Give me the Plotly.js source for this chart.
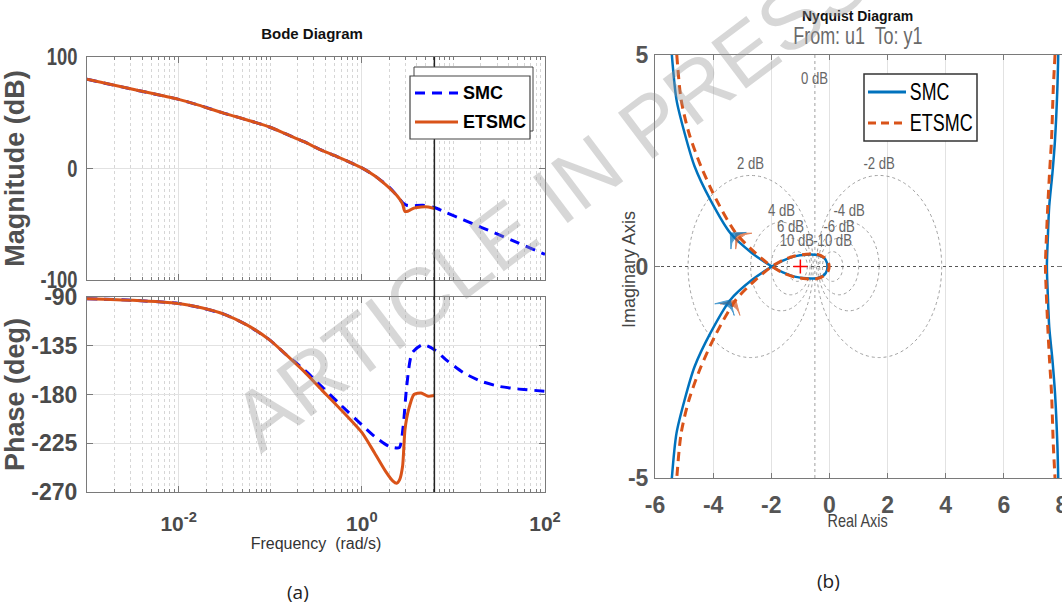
<!DOCTYPE html>
<html>
<head>
<meta charset="utf-8">
<script src="https://cdn.plot.ly/plotly-3.0.1.min.js"></script>
<style>
  html, body { margin: 0; padding: 0; background: #fff; }
  #chart { width: 1062px; height: 604px; }
</style>
</head>
<body>
<div id="chart"></div>
<script>
// ---------- Bode data (frequency in rad/s) ----------
const smcFreq = [0.001, 0.00316, 0.01, 0.0178, 0.0316, 0.0562, 0.1, 0.148, 0.234, 0.363, 0.562, 1.0,
                 1.38, 2.0, 2.57, 2.83, 3.09, 3.54, 4.62, 6.2, 8.32, 12.9, 20.4, 31.6, 50.1, 100];
const smcMagDb = [80, 71, 62, 56, 49.5, 43.5, 37, 31, 24, 16.5, 10, 0.5,
                  -6.5, -17, -27, -31, -33, -33.5, -33, -35, -39.5, -46, -53, -59.5, -66.5, -77];
const smcPhaseDeg = [-91.5, -93, -96, -100, -106, -116, -130, -143, -157, -172.5, -188, -208,
                     -218.7, -228, -229, -209.5, -172.5, -141.6, -134, -138.6, -148, -160, -168, -172.5, -174.8, -177];

const etsmcFreq = [0.001, 0.00316, 0.01, 0.0178, 0.0316, 0.0562, 0.1, 0.148, 0.234, 0.363, 0.562, 1.0,
                   1.38, 1.82, 2.19, 2.4, 2.59, 2.79, 2.96, 3.24, 3.71, 4.44, 5.31, 6.2];
const etsmcMagDb = [80, 71, 62, 56, 49.5, 43.5, 37, 31, 24, 16.5, 10, 0.5,
                    -6.5, -14.5, -20.6, -24, -27.5, -32, -38.5, -38, -35.5, -34.5, -34.5, -36];
const etsmcPhaseDeg = [-91.5, -93, -96, -100, -106, -116, -130, -143, -158.7, -175.5, -192, -215,
                       -234, -251, -260, -262, -258.6, -246, -212.5, -194, -180, -178.6, -181.7, -181];

// ---------- Nyquist data ----------
const nyqSmcLoopRe = [-5.42, -5.26, -4.98, -4.64, -4.10, -3.41, -2.67, -1.98, -1.6, -1.2, -0.8, -0.4, -0.18, -0.08, -0.07,
                      -0.08, -0.18, -0.4, -0.8, -1.2, -1.6, -1.98, -2.67, -3.41, -4.10, -4.64, -4.98, -5.26, -5.42];
const nyqSmcLoopIm = [5.0, 3.94, 3.15, 2.37, 1.58, 0.79, 0.32, 0, -0.14, -0.24, -0.28, -0.27, -0.2, -0.08, 0,
                      0.08, 0.2, 0.27, 0.28, 0.24, 0.14, 0, -0.32, -0.79, -1.58, -2.37, -3.15, -3.94, -5.0];
const nyqSmcRightRe = [7.87, 7.84, 7.76, 7.67, 7.56, 7.51, 7.48, 7.51, 7.56, 7.67, 7.76, 7.84, 7.87];
const nyqSmcRightIm = [5, 4.2, 3.0, 2.2, 1.42, 0.63, 0, -0.63, -1.42, -2.2, -3.0, -4.2, -5];

const nyqEtsmcLoopRe = [-5.25, -5.10, -4.83, -4.42, -3.89, -3.22, -2.55, -1.98, -1.6, -1.2, -0.8, -0.45, -0.2, -0.04, -0.01,
                        -0.04, -0.2, -0.45, -0.8, -1.2, -1.6, -1.98, -2.55, -3.22, -3.89, -4.42, -4.83, -5.10, -5.25];
const nyqEtsmcLoopIm = [5.0, 3.94, 3.15, 2.37, 1.58, 0.79, 0.32, 0, -0.15, -0.25, -0.29, -0.29, -0.22, -0.1, 0,
                        0.1, 0.22, 0.29, 0.29, 0.25, 0.15, 0, -0.32, -0.79, -1.58, -2.37, -3.15, -3.94, -5.0];
const nyqEtsmcRightRe = [7.76, 7.70, 7.64, 7.57, 7.51, 7.46, 7.43, 7.46, 7.51, 7.57, 7.64, 7.70, 7.76];
const nyqEtsmcRightIm = [5, 4.2, 3.0, 2.2, 1.42, 0.63, 0, -0.63, -1.42, -2.2, -3.0, -4.2, -5];

const criticalPointRe = [-1];
const criticalPointIm = [0];

// ---------- axes, ticks and grid levels ----------
const bodeFreqRangeLog = [-3, 2];
const bodeFreqTicks = [0.01, 1, 100];
const bodeFreqTickText = ['10<sup>-2</sup>', '10<sup>0</sup>', '10<sup>2</sup>'];
const magRange = [-100, 100];
const magTicks = [-100, 0, 100];
const phaseRange = [-270, -90];
const phaseTicks = [-270, -225, -180, -135, -90];
const realRange = [-6, 8.0001];
const realTicks = [-6, -4, -2, 0, 2, 4, 6, 8];
const imagRange = [-5, 5];
const imagTicks = [-5, 0, 5];
const mCircleDb = [2, -2, 4, -4, 6, -6, 10, -10];
const zeroDbRe = -0.5;
const labelOf = v => String(v);

// ---------- styling ----------
const W = 1062, H = 604;
const px = v => v / W;
const py = v => 1 - v / H;

const SANS = "'Liberation Sans', Arial, Helvetica, sans-serif";
const BLUE_BODE = '#0000FF';
const ORANGE = '#D95319';
const BLUE_NYQ = '#0072BD';
const AXIS_LINE = '#7a7a7a';
const GRID = '#e2e2e2';
const MINOR_GRID = '#d6d6d6';

// minor log grid for the frequency axes
const minorFreq = [];
for (let e = bodeFreqRangeLog[0]; e < bodeFreqRangeLog[1]; e++) {
  for (let d = 1; d <= 9; d++) {
    const v = d * Math.pow(10, e);
    if (!bodeFreqTicks.some(m => Math.abs(m - v) / m < 1e-9)) minorFreq.push(v);
  }
}

const traces = [
  { x: smcFreq, y: smcMagDb, xaxis: 'x', yaxis: 'y', name: 'SMC', mode: 'lines',
    line: { color: BLUE_BODE, width: 3, dash: '10px,7px', shape: 'spline', smoothing: 0.8 } },
  { x: etsmcFreq, y: etsmcMagDb, xaxis: 'x', yaxis: 'y', name: 'ETSMC', mode: 'lines',
    line: { color: ORANGE, width: 3, shape: 'spline', smoothing: 0.8 } },
  { x: smcFreq, y: smcPhaseDeg, xaxis: 'x2', yaxis: 'y2', name: 'SMC', mode: 'lines',
    line: { color: BLUE_BODE, width: 3, dash: '10px,7px', shape: 'spline', smoothing: 0.6 } },
  { x: etsmcFreq, y: etsmcPhaseDeg, xaxis: 'x2', yaxis: 'y2', name: 'ETSMC', mode: 'lines',
    line: { color: ORANGE, width: 3, shape: 'spline', smoothing: 0.6 } },
  { x: nyqSmcLoopRe.concat([null], nyqSmcRightRe), y: nyqSmcLoopIm.concat([null], nyqSmcRightIm),
    xaxis: 'x3', yaxis: 'y3', name: 'SMC', mode: 'lines', connectgaps: false,
    line: { color: BLUE_NYQ, width: 2.5, shape: 'spline', smoothing: 0.8 } },
  { x: nyqEtsmcLoopRe.concat([null], nyqEtsmcRightRe), y: nyqEtsmcLoopIm.concat([null], nyqEtsmcRightIm),
    xaxis: 'x3', yaxis: 'y3', name: 'ETSMC', mode: 'lines', connectgaps: false,
    line: { color: ORANGE, width: 3, dash: '9px,6px', shape: 'spline', smoothing: 0.8 } },
  { x: criticalPointRe, y: criticalPointIm, xaxis: 'x3', yaxis: 'y3', mode: 'markers', name: 'critical point',
    marker: { symbol: 'cross-thin', size: 10, line: { color: '#ff0000', width: 1.5 } }, hoverinfo: 'skip' }
];

// direction arrows on the left branches, oriented along the curve
function arrowAt(re, im, k, color) {
  return { x: [re[k + 1], re[k]], y: [im[k + 1], im[k]], xaxis: 'x3', yaxis: 'y3', mode: 'markers',
    hoverinfo: 'skip',
    marker: { symbol: 'arrow-wide', size: [0, 16], angleref: 'previous', color: color,
              line: { color: color, width: 1 } } };
}
const upperIdx = 5;
const lowerIdx = nyqSmcLoopRe.length - 1 - upperIdx;
traces.push(arrowAt(nyqEtsmcLoopRe, nyqEtsmcLoopIm, upperIdx, ORANGE));
traces.push(arrowAt(nyqEtsmcLoopRe, nyqEtsmcLoopIm, lowerIdx, ORANGE));
traces.push(arrowAt(nyqSmcLoopRe, nyqSmcLoopIm, upperIdx, BLUE_NYQ));
traces.push(arrowAt(nyqSmcLoopRe, nyqSmcLoopIm, lowerIdx, BLUE_NYQ));
traces.forEach(t => { t.showlegend = false; });

const bodeXCommon = {
  type: 'log', range: bodeFreqRangeLog, domain: [px(87), px(545)],
  tickmode: 'array', tickvals: bodeFreqTicks,
  ticks: 'inside', ticklen: 6, tickcolor: AXIS_LINE, showline: true, linecolor: AXIS_LINE, linewidth: 1,
  mirror: 'ticks', showgrid: true, gridcolor: GRID, zeroline: false,
  minor: { tickmode: 'array', tickvals: minorFreq, ticks: 'inside', ticklen: 3, tickcolor: AXIS_LINE,
           showgrid: true, gridcolor: MINOR_GRID, griddash: 'dot', gridwidth: 1 }
};

const tickFontBodeY = { family: SANS, size: 23, color: '#4a4a4a', weight: 'bold' };
const tickFontBodeX = { family: SANS, size: 21, color: '#4a4a4a', weight: 'bold' };
const tickFontNyq = { family: SANS, size: 23, color: '#555555', weight: 'bold' };
const dotGrey = { color: '#a0a0a0', width: 1, dash: 'dot' };

const shapes = [];
// M-circles (constant closed-loop magnitude)
const mCircles = mCircleDb.map(db => {
  const M = Math.pow(10, db / 20);
  return { db: db, c: -M * M / (M * M - 1), r: Math.abs(M / (M * M - 1)) };
});
mCircles.forEach(m => {
  shapes.push({ type: 'circle', xref: 'x3', yref: 'y3', x0: m.c - m.r, x1: m.c + m.r, y0: -m.r, y1: m.r,
    layer: 'between', line: dotGrey });
});
// 0 dB line and real axis
shapes.push({ type: 'line', xref: 'x3', yref: 'y3', x0: zeroDbRe, x1: zeroDbRe, y0: imagRange[0], y1: imagRange[1],
  layer: 'between', line: dotGrey });
shapes.push({ type: 'line', xref: 'x3', yref: 'y3', x0: realRange[0], x1: realRange[1], y0: 0, y1: 0,
  layer: 'between', line: { color: '#555555', width: 1, dash: 'dot' } });
// marker line at the last ETSMC frequency across both Bode panels
const fMark = etsmcFreq[etsmcFreq.length - 1];
shapes.push({ type: 'line', xref: 'x', yref: 'paper', x0: fMark, x1: fMark, y0: py(492), y1: py(57),
  layer: 'above', line: { color: '#222222', width: 1.5 } });
// Bode legend (double box)
shapes.push({ type: 'rect', xref: 'paper', yref: 'paper', x0: px(414), x1: px(533), y0: py(131), y1: py(67),
  layer: 'above', fillcolor: '#ffffff', line: { color: '#444444', width: 1 } });
shapes.push({ type: 'rect', xref: 'paper', yref: 'paper', x0: px(410), x1: px(530), y0: py(139), y1: py(76),
  layer: 'above', fillcolor: '#ffffff', line: { color: '#444444', width: 1.2 } });
shapes.push({ type: 'line', xref: 'paper', yref: 'paper', x0: px(415), x1: px(458), y0: py(93), y1: py(93),
  layer: 'above', line: { color: BLUE_BODE, width: 3, dash: '10px,7px' } });
shapes.push({ type: 'line', xref: 'paper', yref: 'paper', x0: px(415), x1: px(458), y0: py(122), y1: py(122),
  layer: 'above', line: { color: ORANGE, width: 3 } });
// Nyquist legend
shapes.push({ type: 'rect', xref: 'paper', yref: 'paper', x0: px(864), x1: px(977), y0: py(141), y1: py(74),
  layer: 'above', fillcolor: '#ffffff', line: { color: '#333333', width: 1.5 } });
shapes.push({ type: 'line', xref: 'paper', yref: 'paper', x0: px(868), x1: px(906), y0: py(92), y1: py(92),
  layer: 'above', line: { color: BLUE_NYQ, width: 3 } });
shapes.push({ type: 'line', xref: 'paper', yref: 'paper', x0: px(868), x1: px(906), y0: py(123), y1: py(123),
  layer: 'above', line: { color: ORANGE, width: 3, dash: '8px,5px' } });

// annotations; "squeeze" marks texts drawn in a condensed width
const annotations = [];
const squeeze = {};
function note(opts, factor) {
  const a = Object.assign({ showarrow: false, xanchor: 'center', yanchor: 'middle' }, opts);
  if (factor) squeeze[annotations.length] = factor;
  annotations.push(a);
}
const mLabelFont = { family: SANS, size: 16, color: '#666666' };
mCircles.forEach(m => {
  note({ xref: 'x3', yref: 'y3', x: m.c, y: m.r, yanchor: 'bottom', yshift: 1, text: m.db + ' dB', font: mLabelFont }, 0.82);
});
note({ xref: 'x3', yref: 'paper', x: zeroDbRe, y: py(78), text: '0 dB', font: mLabelFont }, 0.82);
// legend texts
note({ xref: 'paper', yref: 'paper', x: px(461), y: py(93), xanchor: 'left', text: 'SMC',
       font: { family: SANS, size: 18, color: '#000', weight: 'bold' } });
note({ xref: 'paper', yref: 'paper', x: px(461), y: py(122), xanchor: 'left', text: 'ETSMC',
       font: { family: SANS, size: 18, color: '#000', weight: 'bold' } });
note({ xref: 'paper', yref: 'paper', x: px(929.5), y: py(92), text: 'SMC',
       font: { family: SANS, size: 23, color: '#000' } }, 0.77);
note({ xref: 'paper', yref: 'paper', x: px(941.5), y: py(123), text: 'ETSMC',
       font: { family: SANS, size: 23, color: '#000' } }, 0.78);
// Nyquist titles and axis names
note({ xref: 'paper', yref: 'paper', x: px(857), y: py(16), text: 'Nyquist Diagram',
       font: { family: SANS, size: 14, color: '#111', weight: 'bold' } });
note({ xref: 'paper', yref: 'paper', x: px(858), y: py(36), text: 'From: u1\u00a0 To: y1',
       font: { family: SANS, size: 23, color: '#6a6a6a' } }, 0.78);
note({ xref: 'paper', yref: 'paper', x: px(857), y: py(520), text: 'Real Axis',
       font: { family: SANS, size: 19, color: '#444' } }, 0.76);
note({ xref: 'paper', yref: 'paper', x: px(629), y: py(270), textangle: -90, text: 'Imaginary Axis',
       font: { family: SANS, size: 18, color: '#444' } });
// panel captions
note({ xref: 'paper', yref: 'paper', x: px(298), y: py(592), text: '(a)',
       font: { family: "'Open Sans', sans-serif", size: 19, color: '#222' } });
note({ xref: 'paper', yref: 'paper', x: px(828), y: py(581), text: '(b)',
       font: { family: "'Open Sans', sans-serif", size: 19, color: '#222' } });
// watermark
note({ xref: 'paper', yref: 'paper', x: px(550), y: py(200), textangle: -37, text: 'ARTICLE IN PRESS',
       font: { family: SANS, size: 84, color: 'rgba(150,150,150,0.38)' } });

const layout = {
  width: W, height: H,
  margin: { l: 0, r: 0, t: 0, b: 0 },
  paper_bgcolor: '#ffffff', plot_bgcolor: '#ffffff',
  showlegend: false,
  title: { text: 'Bode Diagram', x: px(312), y: py(34), xanchor: 'center', yanchor: 'middle',
           font: { family: SANS, size: 15, color: '#111', weight: 'bold' } },
  xaxis: Object.assign({}, bodeXCommon, { anchor: 'y', showticklabels: false }),
  yaxis: { domain: [py(280), py(57)], anchor: 'x', range: magRange, tickmode: 'array', tickvals: magTicks,
           ticktext: magTicks.map(labelOf),
           ticks: 'inside', ticklen: 6, tickcolor: AXIS_LINE, showline: true, linecolor: AXIS_LINE, mirror: 'ticks',
           showgrid: true, gridcolor: GRID, zeroline: false, tickfont: tickFontBodeY, ticklabelstandoff: 4,
           title: { text: 'Magnitude (dB)', standoff: 0, font: { family: SANS, size: 27, color: '#505050', weight: 'bold' } } },
  xaxis2: Object.assign({}, bodeXCommon, { anchor: 'y2', ticktext: bodeFreqTickText, tickfont: tickFontBodeX,
           ticklabelstandoff: 13,
           title: { text: 'Frequency\u00a0 (rad/s)', standoff: 0, font: { family: SANS, size: 16, color: '#333' } } }),
  yaxis2: { domain: [py(492), py(297)], anchor: 'x2', range: phaseRange, tickmode: 'array', tickvals: phaseTicks,
           ticktext: phaseTicks.map(labelOf),
           ticks: 'inside', ticklen: 6, tickcolor: AXIS_LINE, showline: true, linecolor: AXIS_LINE, mirror: 'ticks',
           showgrid: true, gridcolor: GRID, zeroline: false, tickfont: tickFontBodeY, ticklabelstandoff: 4,
           title: { text: 'Phase (deg)', standoff: 0, font: { family: SANS, size: 27, color: '#505050', weight: 'bold' } } },
  xaxis3: { domain: [px(655), 1], anchor: 'y3', range: realRange, tickmode: 'array', tickvals: realTicks,
           ticktext: realTicks.map(labelOf), ticklabeloverflow: 'allow',
           ticks: 'inside', ticklen: 5, tickcolor: AXIS_LINE, showline: true, linecolor: AXIS_LINE, mirror: 'ticks',
           showgrid: true, gridcolor: GRID, zeroline: false, tickfont: tickFontNyq, ticklabelstandoff: 6 },
  yaxis3: { domain: [py(478), py(55)], anchor: 'x3', range: imagRange, tickmode: 'array', tickvals: imagTicks,
           ticktext: imagTicks.map(labelOf),
           ticks: 'inside', ticklen: 5, tickcolor: AXIS_LINE, showline: true, linecolor: AXIS_LINE, mirror: 'ticks',
           showgrid: false, zeroline: false, tickfont: tickFontNyq, ticklabelstandoff: 1 },
  shapes: shapes,
  annotations: annotations
};

// narrow the glyphs of selected texts while keeping their anchor point
function condense(nodes, factor) {
  nodes.forEach(t => {
    const w = t.getComputedTextLength();
    if (w > 0) {
      t.setAttribute('textLength', (w * factor).toFixed(1));
      t.setAttribute('lengthAdjust', 'spacingAndGlyphs');
    }
  });
}

Plotly.newPlot('chart', traces, layout, { displayModeBar: false, staticPlot: true }).then(gd => {
  const q = sel => Array.from(gd.querySelectorAll(sel));
  condense(q('.subplot.xy .ytick text, .subplot.x2y2 .ytick text'), 0.8);
  condense(q('.subplot.x3y3 .xtick text, .subplot.x3y3 .ytick text'), 0.78);
  Object.keys(squeeze).forEach(i => {
    condense(q('.annotation[data-index="' + i + '"] text'), squeeze[i]);
  });
});
</script>
</body>
</html>
